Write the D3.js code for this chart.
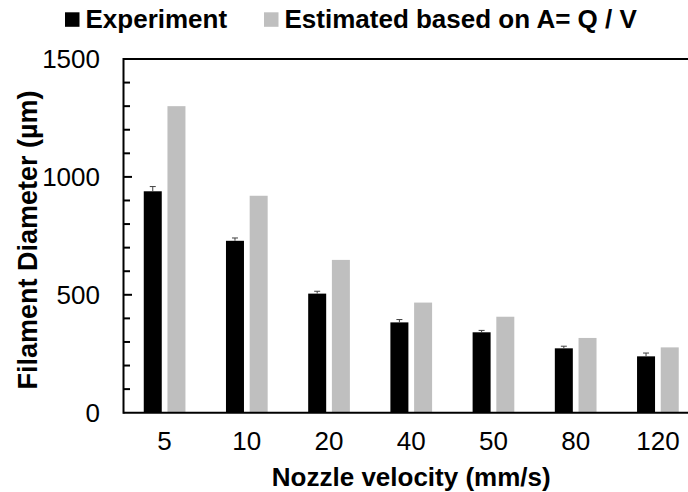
<!DOCTYPE html>
<html><head><meta charset="utf-8">
<script src="https://cdn.jsdelivr.net/npm/d3@7"></script>
<style>body{margin:0;background:#fff}svg{display:block}text{font-family:"Liberation Sans",Arial,sans-serif}</style>
</head><body>
<svg id="c" width="688" height="492"></svg>
<script>
const categories = ["5","10","20","40","50","80","120"];
const experiment = [939, 729, 505, 383, 341, 273, 239];
const experimentErr = [20, 12, 10, 12, 8, 9, 14];
const estimated = [1300, 920, 648, 467, 407, 317, 277];
const yTicks = [0, 500, 1000, 1500];
const seriesNames = ["Experiment", "Estimated based on A= Q / V"];
const colors = ["#000000", "#bfbfbf"];

const FONT = '"Liberation Sans",Arial,sans-serif';
const svg = d3.select("#c");
const L = 123.5, R = 699, T = 59, B = 412.7;
const x = d3.scaleBand().domain(categories).range([L, R]);
const y = d3.scaleLinear().domain([0, 1500]).range([B, T]);
const bw = 18, gap = 5.7;

const g = svg.append("g");
categories.forEach((c, i) => {
  const cx = x(c) + x.bandwidth() / 2;
  g.append("rect").attr("x", cx - gap/2 - bw).attr("y", y(experiment[i]))
    .attr("width", bw).attr("height", B - y(experiment[i])).attr("fill", colors[0]);
  g.append("rect").attr("x", cx + gap/2).attr("y", y(estimated[i]))
    .attr("width", bw).attr("height", B - y(estimated[i])).attr("fill", colors[1]);
  const ex = cx - gap/2 - bw/2;
  const top = y(experiment[i] + experimentErr[i]);
  g.append("line").attr("x1", ex).attr("x2", ex).attr("y1", top).attr("y2", y(experiment[i]))
    .attr("stroke", "#404040").attr("stroke-width", 1);
  g.append("line").attr("x1", ex - 3).attr("x2", ex + 3).attr("y1", top).attr("y2", top)
    .attr("stroke", "#404040").attr("stroke-width", 1);
});

// inward minor ticks
d3.range(100, 1500, 100).forEach(v => {
  const major = v % 500 === 0;
  svg.append("line").attr("x1", L).attr("x2", L + (major ? 8.5 : 6.5))
    .attr("y1", y(v)).attr("y2", y(v)).attr("stroke", "#000").attr("stroke-width", 2);
});
svg.append("line").attr("x1", L).attr("x2", L).attr("y1", T - 1).attr("y2", B + 1)
  .attr("stroke", "#000").attr("stroke-width", 2);
svg.append("line").attr("x1", L).attr("x2", R).attr("y1", T).attr("y2", T)
  .attr("stroke", "#000").attr("stroke-width", 2);
svg.append("line").attr("x1", L).attr("x2", R).attr("y1", B).attr("y2", B)
  .attr("stroke", "#000").attr("stroke-width", 2);

const yAxis = d3.axisLeft(y).tickValues(yTicks).tickFormat(d3.format("d")).tickSize(0).tickPadding(23.5);
const ya = svg.append("g").attr("transform", `translate(${L},0)`).call(yAxis);
ya.select(".domain").remove();
ya.attr("font-size", 26).attr("font-family", FONT);
ya.selectAll("text").attr("fill", "#000");

const xAxis = d3.axisBottom(x).tickSize(0).tickPadding(19);
const xa = svg.append("g").attr("transform", `translate(0,${B})`).call(xAxis);
xa.select(".domain").remove();
xa.attr("font-size", 26).attr("font-family", FONT);
xa.selectAll("text").attr("fill", "#000");

svg.append("text").attr("x", (L + R) / 2).attr("y", 486).attr("text-anchor", "middle")
  .attr("font-size", 26).attr("font-weight", "bold").text("Nozzle velocity (mm/s)");
svg.append("text").attr("transform", "translate(37,240) rotate(-90)").attr("text-anchor", "middle")
  .attr("font-size", 27).attr("font-weight", "bold").text("Filament Diameter (µm)");

const leg = [{x: 65, name: seriesNames[0], c: colors[0]}, {x: 264, name: seriesNames[1], c: colors[1]}];
leg.forEach(l => {
  svg.append("rect").attr("x", l.x).attr("y", 12.3).attr("width", 14.5).attr("height", 14.5).attr("fill", l.c);
  svg.append("text").attr("x", l.x + 20.5).attr("y", 27.7).attr("font-size", 26).attr("font-weight", "bold").text(l.name);
});
</script>
</body></html>
